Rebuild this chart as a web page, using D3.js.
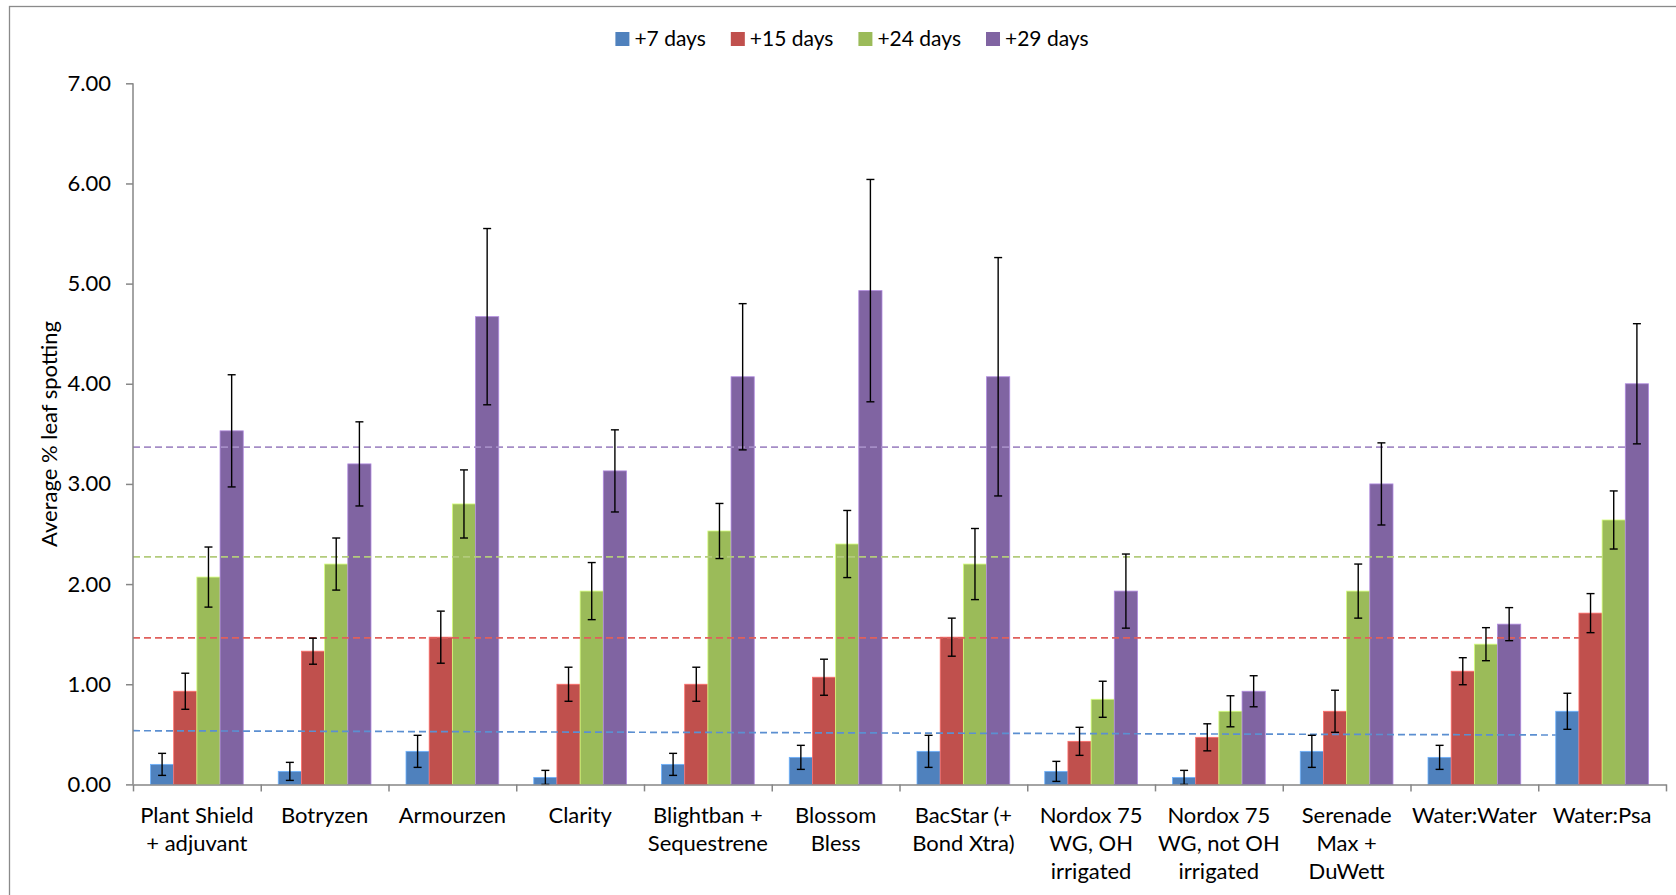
<!DOCTYPE html>
<html>
<head>
<meta charset="utf-8">
<script src="https://cdn.jsdelivr.net/npm/d3@7"></script>
<style>
  html, body { margin: 0; padding: 0; background: #fff; overflow: hidden; }
  svg { display: block; }
  text { font-family: Lato, "Open Sans", sans-serif; fill: #000; }
</style>
</head>
<body>
<svg id="chart" width="1676" height="895"></svg>
<script>
// ---------------- data ----------------
const categoryLines = [
  ["Plant Shield", "+ adjuvant"],
  ["Botryzen"],
  ["Armourzen"],
  ["Clarity"],
  ["Blightban +", "Sequestrene"],
  ["Blossom", "Bless"],
  ["BacStar (+", "Bond Xtra)"],
  ["Nordox 75", "WG, OH", "irrigated"],
  ["Nordox 75", "WG, not OH", "irrigated"],
  ["Serenade", "Max +", "DuWett"],
  ["Water:Water"],
  ["Water:Psa"]
];
const seriesNames = ["+7 days", "+15 days", "+24 days", "+29 days"];
const seriesColors = ["#4F81BD", "#C0504D", "#9BBB59", "#8064A2"];
const refLineColors = ["#5B8FD1", "#E0605C", "#B3CB7C", "#A58DC6"];

const days7  = [0.20, 0.13, 0.33, 0.07, 0.20, 0.27, 0.33, 0.13, 0.07, 0.33, 0.27, 0.73];
const days15 = [0.93, 1.33, 1.47, 1.00, 1.00, 1.07, 1.47, 0.43, 0.47, 0.73, 1.13, 1.71];
const days24 = [2.07, 2.20, 2.80, 1.93, 2.53, 2.40, 2.20, 0.85, 0.73, 1.93, 1.40, 2.64];
const days29 = [3.53, 3.20, 4.67, 3.13, 4.07, 4.93, 4.07, 1.93, 0.93, 3.00, 1.60, 4.00];

const err7  = [0.11, 0.09, 0.16, 0.07, 0.11, 0.12, 0.16, 0.10, 0.07, 0.16, 0.12, 0.18];
const err15 = [0.18, 0.13, 0.26, 0.17, 0.17, 0.18, 0.19, 0.14, 0.135, 0.21, 0.135, 0.195];
const err24 = [0.30, 0.26, 0.34, 0.285, 0.275, 0.335, 0.355, 0.18, 0.155, 0.27, 0.165, 0.29];
const err29 = [0.56, 0.42, 0.88, 0.41, 0.73, 1.11, 1.19, 0.37, 0.155, 0.41, 0.165, 0.60];

// dashed reference lines (value at left end, value at right end)
const refStart = [0.536, 1.462, 2.272, 3.368];
const refEnd   = [0.493, 1.462, 2.272, 3.368];

const yTicks = [0, 1, 2, 3, 4, 5, 6, 7];
const yTitle = "Average % leaf spotting";

// ---------------- build ----------------
const values = [days7, days15, days24, days29];
const errors = [err7, err15, err24, err29];
const catIdx = d3.range(categoryLines.length);

const svg = d3.select("#chart");
const axisColor = "#868686";

// outer chart border (extends beyond the view at right/bottom)
svg.append("rect")
  .attr("x", 9.5).attr("y", 6.5)
  .attr("width", 1720).attr("height", 1000)
  .attr("fill", "#fff").attr("stroke", "#8a8a8a").attr("stroke-width", 1.3);

const plotLeft = 133, plotRight = 1666, plotTop = 83.3, plotBottom = 784.4;

const y = d3.scaleLinear().domain([0, 7]).range([plotBottom, plotTop]);
const x0 = d3.scaleBand().domain(catIdx).range([plotLeft, plotRight])
  .paddingInner(0.274).paddingOuter(0.137);
const x1 = d3.scaleBand().domain(d3.range(seriesNames.length)).range([0, x0.bandwidth()]);
const xb = d3.scaleLinear().domain([0, categoryLines.length]).range([plotLeft, plotRight]);

// bars
const barData = [];
values.forEach((arr, s) => arr.forEach((v, i) => barData.push({ s, i, v, e: errors[s][i] })));

svg.append("g").selectAll("rect").data(barData).join("rect")
  .attr("x", d => x0(d.i) + x1(d.s))
  .attr("y", d => y(d.v))
  .attr("width", x1.bandwidth())
  .attr("height", d => y(0) - y(d.v))
  .attr("fill", d => seriesColors[d.s])
  .attr("stroke", d => d3.color(seriesColors[d.s]).brighter(0.9))
  .attr("stroke-width", 0.8);

// dashed reference lines
svg.append("g").selectAll("line").data(seriesNames.map((n, s) => s)).join("line")
  .attr("x1", plotLeft)
  .attr("x2", s => x0(catIdx[catIdx.length - 1]) + x1(s))
  .attr("y1", s => y(refStart[s]))
  .attr("y2", s => y(refEnd[s]))
  .attr("stroke", s => refLineColors[s])
  .attr("stroke-width", 1.7)
  .attr("stroke-dasharray", "7,4");

// error bars
const eg = svg.append("g").attr("stroke", "#000").attr("stroke-width", 1.4).attr("fill", "none");
const cap = 4;
barData.forEach(d => {
  const cx = x0(d.i) + x1(d.s) + x1.bandwidth() / 2;
  const lo = Math.max(0, d.v - d.e), hi = d.v + d.e;
  eg.append("line").attr("x1", cx).attr("x2", cx).attr("y1", y(hi)).attr("y2", y(lo));
  eg.append("line").attr("x1", cx - cap).attr("x2", cx + cap).attr("y1", y(hi)).attr("y2", y(hi));
  eg.append("line").attr("x1", cx - cap).attr("x2", cx + cap).attr("y1", y(lo)).attr("y2", y(lo));
});

// y axis
const yAxis = svg.append("g").attr("transform", `translate(${plotLeft},0)`)
  .call(d3.axisLeft(y).tickValues(yTicks).tickFormat(d3.format(".2f"))
    .tickSize(7).tickSizeOuter(0).tickPadding(15));
yAxis.selectAll("path, line").attr("stroke", axisColor).attr("stroke-width", 1.5);
yAxis.selectAll("text").attr("font-size", 22).attr("font-family", "Lato").attr("fill", "#000");
yAxis.select(".domain").attr("d", `M0,${plotTop}V${plotBottom}`);

// x axis (ticks at category boundaries)
const xAxis = svg.append("g").attr("transform", `translate(0,${plotBottom})`)
  .call(d3.axisBottom(xb).tickValues(d3.range(categoryLines.length + 1)).tickFormat("")
    .tickSize(7).tickSizeOuter(0));
xAxis.selectAll("path, line").attr("stroke", axisColor).attr("stroke-width", 1.5);

// category labels
const lab = svg.append("g").selectAll("text").data(catIdx).join("text")
  .attr("text-anchor", "middle")
  .attr("font-size", 22);
lab.each(function (i) {
  const t = d3.select(this);
  const cx = x0(i) + x0.bandwidth() / 2;
  categoryLines[i].forEach((line, k) => {
    t.append("tspan").attr("x", cx).attr("y", 823 + k * 28).text(line);
  });
});

// y title
svg.append("text")
  .attr("transform", `translate(57,434) rotate(-90)`)
  .attr("text-anchor", "middle")
  .attr("font-size", 22)
  .text(yTitle);

// legend
const legend = svg.append("g");
let lx = 0;
seriesNames.forEach((n, s) => {
  const g = legend.append("g");
  g.append("rect").attr("x", 0).attr("y", 32).attr("width", 14).attr("height", 14)
    .attr("fill", seriesColors[s]);
  const tx = g.append("text").attr("x", 19).attr("y", 46).attr("font-size", 21).text(n);
  const w = 19 + tx.node().getComputedTextLength();
  g.attr("transform", `translate(${lx},0)`);
  lx += w + 25;
});
const totalW = lx - 25;
legend.attr("transform", `translate(${852 - totalW / 2},0)`);
</script>
</body>
</html>
